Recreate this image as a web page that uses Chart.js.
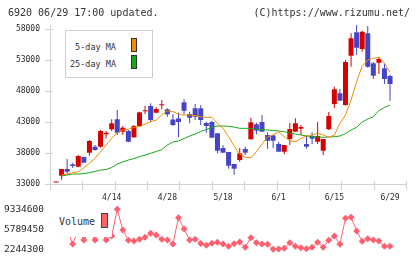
<!DOCTYPE html>
<html><head><meta charset="utf-8">
<script src="https://cdn.jsdelivr.net/npm/chart.js@4.4.0/dist/chart.umd.min.js"></script>
<style>
html,body{margin:0;padding:0;background:#fff;}
#wrap{position:relative;width:420px;height:259px;overflow:hidden;font-family:'DejaVu Sans Mono',monospace;color:#333;}
canvas{position:absolute;left:0;}
.t{position:absolute;white-space:nowrap;}
.sw{position:absolute;box-sizing:border-box;border:1px solid #333;}
</style></head><body>
<div id="wrap">
<canvas id="main" width="420" height="205" style="top:0;width:420px;height:205px"></canvas>
<canvas id="vol" width="420" height="59" style="top:200px;width:420px;height:59px"></canvas>
<div class="t" style="left:8px;top:6.5px;font-size:10px;line-height:12px">6920 06/29 17:00 updated.</div>
<div class="t" style="right:10px;top:6.5px;font-size:10px;line-height:12px">(C)https://www.rizumu.net/</div>
<div style="position:absolute;left:65px;top:30px;width:88px;height:48px;box-sizing:border-box;border:1px solid #cfcfcf;background:#fff;"></div>
<div class="t" style="right:304px;top:41.5px;font-size:8.5px;line-height:10px;text-align:right">5-day MA</div>
<div class="t" style="right:304px;top:58.5px;font-size:8.5px;line-height:10px;text-align:right">25-day MA</div>
<div class="sw" style="left:131px;top:38px;width:6px;height:14px;background:#f28c00"></div>
<div class="sw" style="left:131px;top:55px;width:6px;height:14px;background:#18a818"></div>
<div style="position:absolute;left:50px;top:203px;width:62px;height:33.5px;background:#fff;"></div>
<div class="t" style="left:59px;top:216.2px;font-size:10px;line-height:12px">Volume</div>
<div class="sw" style="left:101px;top:213px;width:7px;height:15px;background:#ff6262;border-color:#444"></div>
</div>
<script>
const dates = ['3/31','4/1','4/2','4/3','4/6','4/7','4/8','4/9','4/10','4/13',
 '4/14','4/15','4/16','4/17','4/20','4/21','4/22','4/23','4/24','4/27',
 '4/28','4/30','5/1','5/7','5/8','5/11','5/12','5/13','5/14','5/15',
 '5/18','5/19','5/20','5/21','5/22','5/25','5/26','5/27','5/28','5/29',
 '6/1','6/2','6/3','6/4','6/5','6/8','6/9','6/10','6/11','6/12',
 '6/15','6/16','6/17','6/18','6/19','6/22','6/23','6/24','6/25','6/26','6/29'];
const labelIdx = [10,20,30,40,50,60];
const opens = [33250,34340,35420,36150,35790,37350,38050,39020,39020,41020,
 41820,43440,41440,41550,40530,42350,44730,45580,44500,45690,
 45050,43400,43560,46180,44290,45210,45210,42840,43000,41180,
 38810,38160,36230,36870,38650,40210,42630,43000,40900,40850,
 39450,38210,40260,41440,41920,39450,40740,39820,38370,41820,
 45900,47630,45740,53690,57470,54770,57310,52470,52560,51660,50420];
const closes = [33300,35420,34980,35900,37520,36440,39940,38480,41550,41270,
 42790,41270,42080,39820,42350,44560,44820,43320,45100,45850,
 44240,42520,43000,44820,43690,43850,43320,42350,40470,38370,
 38050,35950,35470,37950,38050,42950,41600,41440,39980,39980,
 38210,39290,41870,42790,42190,39020,40310,40740,40260,43970,
 48270,46440,52680,56500,54980,57560,51920,50470,53160,49940,49130];
const highs = [33300,35420,37030,36440,37680,37400,40100,39290,41710,41550,
 43440,44940,42350,41710,42520,44660,45630,46020,45370,46550,
 45210,44290,44530,46710,44660,45900,45740,43050,43210,41180,
 39290,38160,36230,38810,39020,43690,42890,44130,41340,40900,
 39820,39290,42890,43600,42520,40850,41340,43050,40260,44610,
 48690,48320,52950,57310,58650,57730,58480,52680,53530,52470,50580];
const lows = [33250,33690,34530,35580,35690,36430,37560,38370,38860,40370,
 41550,40900,40900,39730,40470,42240,44290,43050,44400,45050,
 43850,42350,40530,44290,42790,43320,42520,41270,40470,37950,
 38050,35470,34500,36600,37680,40210,41020,41440,38690,38810,
 38210,37790,39290,41440,40900,38690,39450,39450,37680,41710,
 45260,46440,45630,51920,53810,54340,51760,49940,50740,49130,46440];
const ma5 = [null,34450,34610,34820,34980,35630,36340,37140,38210,39290,
 40370,41270,41710,41820,42150,42240,42680,43050,43320,44130,
 44820,44660,44290,44130,44130,44020,43850,43760,43760,42790,
 41980,40630,39130,37840,37310,37240,38210,39450,40630,40900,
 41440,40630,39980,39820,40370,40740,40900,41180,40900,40530,
 40900,42790,44130,46550,49500,52030,53000,53270,53440,52470,51020];
const ma25 = [null,34290,34450,34610,34610,34690,34820,35020,35260,35340,
 35660,36230,36550,36870,37110,37400,37680,37950,38240,38560,
 39290,39770,39940,40340,40740,41060,41470,41790,42110,42350,
 42350,42310,42190,41980,41980,41950,41820,41790,41710,41630,
 41550,41440,41230,41060,40900,40740,40630,40580,40530,40580,
 40630,40740,41150,41710,42150,43000,43480,43850,44850,45340,45740];
const volume = [5310000,4960000,5670000,3180000,5670000,3890000,5310000,3890000,5310000,3890000,
 4600000,9334600,5670000,3840000,3720000,4020000,4370000,5080000,4780000,4020000,
 3890000,3180000,7850000,5840000,3890000,4020000,3270000,2950000,3310000,3480000,
 3180000,2780000,3240000,3540000,2600000,4300000,3410000,3180000,3130000,2244300,
 2300000,2420000,3410000,2780000,2530000,2350000,2600000,3480000,2600000,3840000,
 4600000,3130000,7740000,7920000,5490000,3660000,4120000,3890000,3720000,2780000,2780000];
const priceTicks = [33000,38000,43000,48000,53000,58000];
const volTicks = [2244300,5789450,9334600];

const UP = '#d60000', DOWN = '#4444c4', MA5C = '#f28c00', MA25C = '#18a818', VOLC = '#ff6070', AXIS = '#d2d2d2', TXT = '#2a2a2a';
const X_MIN = -1.08, X_MAX = 62.87;
Chart.defaults.font.family = "'DejaVu Sans Mono', monospace";
const candleColors = opens.map((o, i) => closes[i] >= o ? UP : DOWN);
const divisions = [];
for (let k = 0; k <= 11; k++) divisions.push(X_MIN + k * (X_MAX - X_MIN) / 11);

const axisTicks = {
  id: 'axisTicks',
  afterDraw(chart) {
    const {ctx, chartArea: a, scales: {x, y}} = chart;
    ctx.save();
    ctx.strokeStyle = AXIS; ctx.lineWidth = 1;
    ctx.beginPath();
    priceTicks.forEach(v => { const py = Math.round(y.getPixelForValue(v)) + 0.5; ctx.moveTo(a.left - 5, py); ctx.lineTo(a.left + 3, py); });
    divisions.forEach(v => { const px = Math.round(x.getPixelForValue(v)) + 0.5; ctx.moveTo(px, a.bottom - 3); ctx.lineTo(px, a.bottom + 6); });
    ctx.stroke();
    ctx.restore();
  }
};
const noPad = s => { s.paddingTop = 0; s.paddingBottom = 0; s.paddingLeft = 0; s.paddingRight = 0; };

new Chart(document.getElementById('main'), {
  type: 'bar',
  data: { datasets: [
    { type: 'line', data: ma5.map((v, i) => ({x: i, y: v})), borderColor: MA5C, borderWidth: 1, pointRadius: 0, tension: 0, order: 0 },
    { type: 'line', data: ma25.map((v, i) => ({x: i, y: v})), borderColor: MA25C, borderWidth: 1, pointRadius: 0, tension: 0, order: 1 },
    { type: 'bar', data: opens.map((o, i) => ({x: i, y: [o, closes[i]]})), backgroundColor: candleColors, barThickness: 5, grouped: false, minBarLength: 1, borderWidth: 0, inflateAmount: 0, order: 2 },
    { type: 'bar', data: lows.map((l, i) => ({x: i, y: [l, highs[i]]})), backgroundColor: candleColors, barThickness: 1, grouped: false, borderWidth: 0, inflateAmount: 0, order: 3 }
  ]},
  options: {
    responsive: false, animation: false, events: [],
    layout: { padding: { left: 0, right: 14, top: 25, bottom: 1 } },
    plugins: { legend: { display: false }, tooltip: { enabled: false } },
    scales: {
      x: { type: 'linear', min: X_MIN, max: X_MAX, offset: false,
        afterBuildTicks: s => { s.ticks = divisions.concat(labelIdx).map(v => ({value: v})); },
        afterFit: s => { s.height = 20; noPad(s); },
        grid: { display: false, drawTicks: true, tickLength: 8 },
        border: { display: true, color: AXIS },
        ticks: { autoSkip: false, maxRotation: 0, font: { size: 8 }, color: TXT, padding: 1,
          callback: v => (Number.isInteger(v) && labelIdx.includes(v)) ? dates[v] : '' } },
      y: { min: 33000, max: 58650,
        afterBuildTicks: s => { s.ticks = priceTicks.map(v => ({value: v})); },
        afterFit: s => { s.width = 50; noPad(s); },
        grid: { display: false, drawTicks: true, tickLength: 8 },
        border: { display: true, color: AXIS },
        ticks: { font: { size: 8 }, color: TXT, padding: 2, callback: v => String(v) } }
    }
  },
  plugins: [axisTicks]
});

const vMin = Math.min(...volume), vMax = Math.max(...volume), vRange = vMax - vMin;
new Chart(document.getElementById('vol'), {
  type: 'line',
  data: { datasets: [{ data: volume.map((v, i) => ({x: i, y: v})), borderColor: VOLC, backgroundColor: VOLC,
    borderWidth: 1, pointStyle: 'rectRot', pointRadius: 3.5, pointBorderWidth: 0, pointBackgroundColor: VOLC, tension: 0, clip: false }] },
  options: {
    responsive: false, animation: false, events: [],
    layout: { padding: { left: 0, right: 14, top: 5, bottom: 4 } },
    plugins: { legend: { display: false }, tooltip: { enabled: false } },
    scales: {
      x: { type: 'linear', min: X_MIN, max: X_MAX, display: false },
      y: { min: vMin - vRange * 0.1425, max: vMax + vRange * 0.1075,
        afterBuildTicks: s => { s.ticks = volTicks.map(v => ({value: v})); },
        afterFit: s => { s.width = 50; noPad(s); },
        grid: { display: false, drawTicks: true, tickLength: 6 },
        border: { display: false },
        ticks: { font: { size: 9.5, lineHeight: 1 }, color: TXT, padding: 0, callback: v => String(v) } }
    }
  }
});
</script>
</body></html>
